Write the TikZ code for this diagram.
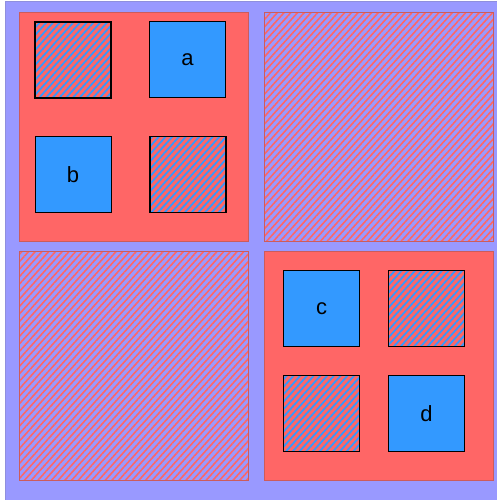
\documentclass[tikz,border=0pt]{standalone}
\usepackage{fontspec}
\setmainfont{Liberation Sans}
\usetikzlibrary{patterns.meta}
\definecolor{lav}{HTML}{9999FF}
\definecolor{lavb}{HTML}{8F8FDD}
\definecolor{redf}{HTML}{FF6666}
\definecolor{redb}{HTML}{CC5C5C}
\definecolor{bluef}{HTML}{3399FF}
\tikzset{
  bigred/.style={draw=redb,line width=1pt,fill=redf,minimum width=229pt,minimum height=229pt,inner sep=0pt},
  bighatch/.style={draw=redb,line width=1pt,minimum width=229pt,minimum height=229pt,inner sep=0pt,
    pattern={Lines[angle=48,distance=5pt,line width=1.6pt]},pattern color=redf},
  bluebox/.style={draw=black,line width=1pt,fill=bluef,minimum width=76pt,minimum height=76pt,inner sep=0pt,font=\fontsize{22}{22}\selectfont},
  hatchbox/.style={draw=black,line width=1.8pt,preaction={fill=redf},minimum width=76pt,minimum height=76pt,inner sep=0pt,
    pattern={Lines[angle=48,distance=5pt,line width=1.8pt]},pattern color=bluef}
}
\begin{document}
\begin{tikzpicture}[x=1pt,y=-1pt]
\useasboundingbox (0,0) rectangle (497,500);
\fill[white] (0,0) rectangle (497,500);
\node[draw=lavb,line width=1pt,fill=lav,minimum width=494pt,minimum height=500pt,inner sep=0pt] (bg) at (252,252) {};
\node[bigred] (tl) at (134,127) {};
\node[bighatch] (tr) at (379,127) {};
\node[bighatch] (bl) at (134,366) {};
\node[bigred] (br) at (379,366) {};
\node[hatchbox] (h1) at (73,60) {};
\node[bluebox] (a) at (187.5,60) {a};
\node[bluebox] (b) at (73,174.5) {b};
\node[hatchbox] (h2) at (188,174.5) {};
\node[bluebox] (c) at (321.5,308.5) {c};
\node[hatchbox] (h3) at (426.5,308.5) {};
\node[hatchbox] (h4) at (321.5,413.5) {};
\node[bluebox] (d) at (426.5,413.5) {d};
\end{tikzpicture}
\end{document}
